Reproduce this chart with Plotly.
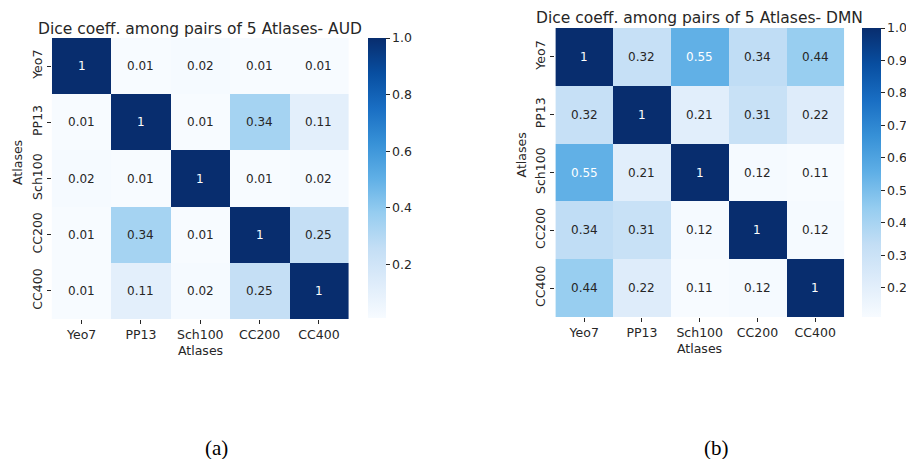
import plotly.graph_objects as go

# Atlas names (rows top-to-bottom, columns left-to-right)
atlases = ["Yeo7", "PP13", "Sch100", "CC200", "CC400"]

# Pairwise Dice coefficients, auditory network
dice_aud = [
    [1.00, 0.01, 0.02, 0.01, 0.01],
    [0.01, 1.00, 0.01, 0.34, 0.11],
    [0.02, 0.01, 1.00, 0.01, 0.02],
    [0.01, 0.34, 0.01, 1.00, 0.25],
    [0.01, 0.11, 0.02, 0.25, 1.00],
]

# Pairwise Dice coefficients, default mode network
dice_dmn = [
    [1.00, 0.32, 0.55, 0.34, 0.44],
    [0.32, 1.00, 0.21, 0.31, 0.22],
    [0.55, 0.21, 1.00, 0.12, 0.11],
    [0.34, 0.31, 0.12, 1.00, 0.12],
    [0.44, 0.22, 0.11, 0.12, 1.00],
]

titles = ["Dice coeff. among pairs of 5 Atlases- AUD",
          "Dice coeff. among pairs of 5 Atlases- DMN"]
captions = ["(a)", "(b)"]
cbar_ticks_aud = [0.2, 0.4, 0.6, 0.8, 1.0]
cbar_ticks_dmn = [0.2, 0.3, 0.4, 0.5, 0.6, 0.7, 0.8, 0.9, 1.0]

W, H = 906, 459
INK = "rgb(38,38,38)"
FONT = "DejaVu Sans"

# vivid white-to-navy blue ramp
blues = [(247, 251, 255), (222, 236, 250), (195, 222, 245), (150, 205, 240),
         (95, 175, 230), (55, 145, 215), (25, 110, 195), (8, 78, 160), (8, 45, 110)]
colorscale = [[i / (len(blues) - 1), "rgb(%d,%d,%d)" % c] for i, c in enumerate(blues)]


def px_x(v):
    return v / W


def px_y(v):
    return 1 - v / H


def blues_at(t):
    t = min(max(t, 0.0), 1.0) * (len(blues) - 1)
    i = min(int(t), len(blues) - 2)
    f = t - i
    return [blues[i][k] + (blues[i + 1][k] - blues[i][k]) * f for k in range(3)]


def luminance(rgb):
    out = []
    for c in rgb:
        c = c / 255
        out.append(c / 12.92 if c <= 0.03928 else ((c + 0.055) / 1.055) ** 2.4)
    return 0.2126 * out[0] + 0.7152 * out[1] + 0.0722 * out[2]


def fmt(v):
    return "{:.2g}".format(v)


# pixel boxes: heatmap (x0, x1, y0, y1), colorbar (x0, x1, y0, y1)
panels = [
    dict(z=dice_aud, ticks=cbar_ticks_aud, hm=(52, 349, 38, 319), cb=(368, 386, 38, 318),
         title_y=29, ytitle=(17, 162), xtitle_y=350, cap=(217, 448)),
    dict(z=dice_dmn, ticks=cbar_ticks_dmn, hm=(556, 845, 28, 317), cb=(862, 881, 28, 317),
         title_y=18, ytitle=(522, 155), xtitle_y=348, cap=(717, 448)),
]

fig = go.Figure()
annotations = []

for i, p in enumerate(panels):
    sfx = "" if i == 0 else str(i + 1)
    z = p["z"]
    flat = [v for row in z for v in row]
    zmin, zmax = min(flat), max(flat)
    x0, x1, y0, y1 = p["hm"]
    cx0, cx1, cy0, cy1 = p["cb"]

    fig.add_trace(go.Heatmap(
        z=z, x=atlases, y=atlases, xaxis="x" + sfx, yaxis="y" + sfx,
        colorscale=colorscale, zmin=zmin, zmax=zmax, hoverinfo="skip",
        colorbar=dict(
            x=px_x(cx0), xanchor="left", y=px_y(cy0), yanchor="top",
            len=(cy1 - cy0) / H, lenmode="fraction",
            thickness=cx1 - cx0, thicknessmode="pixels",
            xpad=0, ypad=0, outlinewidth=0,
            ticks="outside", ticklen=4, tickwidth=1, tickcolor=INK,
            tickvals=p["ticks"], ticktext=["%.1f" % t for t in p["ticks"]],
            tickfont=dict(family=FONT, size=12.5, color=INK),
        ),
    ))

    axis_common = dict(showgrid=False, zeroline=False, showline=False,
                       ticks="outside", ticklen=4, tickwidth=1, tickcolor=INK,
                       tickfont=dict(family=FONT, size=12.5, color=INK))
    fig.update_layout(**{
        "xaxis" + sfx: dict(domain=[px_x(x0), px_x(x1)], anchor="y" + sfx,
                            tickangle=0, **axis_common),
        "yaxis" + sfx: dict(domain=[px_y(y1), px_y(y0)], anchor="x" + sfx,
                            autorange="reversed", tickangle=-90, **axis_common),
    })

    # cell value labels
    for r, row in enumerate(z):
        for c, v in enumerate(row):
            col = blues_at((v - zmin) / (zmax - zmin))
            txt_col = "white" if luminance(col) < 0.408 else INK
            annotations.append(dict(
                x=atlases[c], y=atlases[r], xref="x" + sfx, yref="y" + sfx,
                text=fmt(v), showarrow=False,
                font=dict(family=FONT, size=12, color=txt_col)))

    cx = (x0 + x1) / 2
    annotations += [
        dict(x=px_x(cx), y=px_y(p["title_y"]), xref="paper", yref="paper",
             text=titles[i], showarrow=False, xanchor="center", yanchor="middle",
             font=dict(family=FONT, size=15.5, color=INK)),
        dict(x=px_x(cx), y=px_y(p["xtitle_y"]), xref="paper", yref="paper",
             text="Atlases", showarrow=False, xanchor="center", yanchor="middle",
             font=dict(family=FONT, size=12.5, color=INK)),
        dict(x=px_x(p["ytitle"][0]), y=px_y(p["ytitle"][1]), xref="paper", yref="paper",
             text="Atlases", showarrow=False, textangle=-90,
             xanchor="center", yanchor="middle",
             font=dict(family=FONT, size=12.5, color=INK)),
        dict(x=px_x(p["cap"][0]), y=px_y(p["cap"][1]), xref="paper", yref="paper",
             text=captions[i], showarrow=False, xanchor="center", yanchor="middle",
             font=dict(family="Liberation Serif", size=21, color="black")),
    ]

fig.update_layout(
    width=W, height=H, margin=dict(l=0, r=0, t=0, b=0),
    paper_bgcolor="white", plot_bgcolor="white",
    annotations=annotations, showlegend=False,
)

fig.write_html("out.html")
